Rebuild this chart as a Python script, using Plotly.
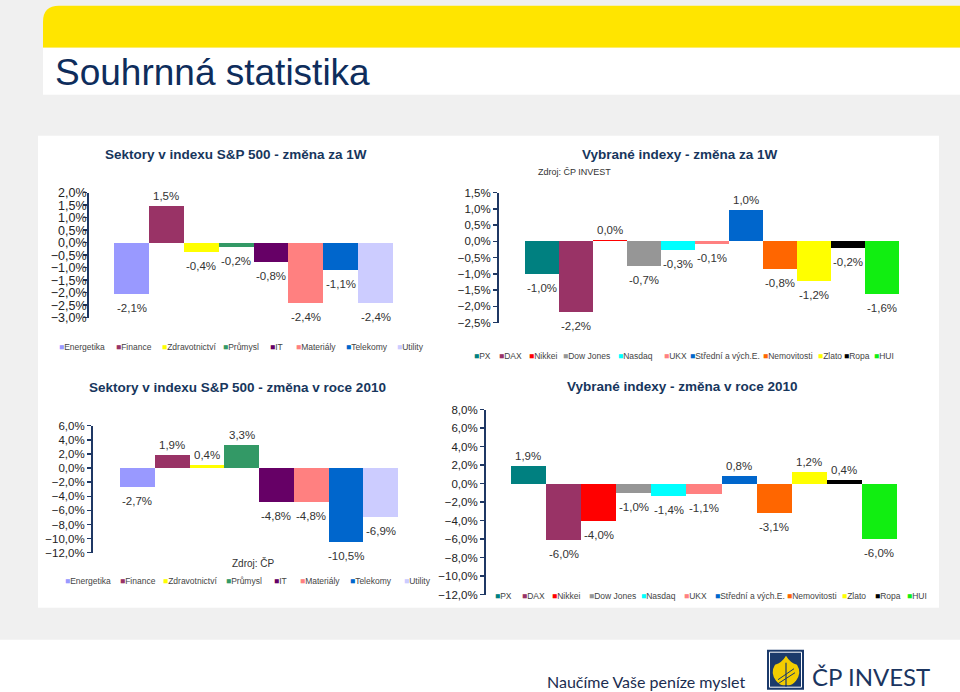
import plotly.graph_objects as go

# ---------------- data ----------------
sectors = ["Energetika", "Finance", "Zdravotnictví", "Průmysl", "IT", "Materiály", "Telekomy", "Utility"]
sector_colors = ["#9999FF", "#993366", "#FFFF00", "#339966", "#660066", "#FF8080", "#0066CC", "#CCCCFF"]
sectors_1w = [-2.06, 1.47, -0.36, -0.16, -0.77, -2.43, -1.09, -2.42]
sectors_2010 = [-2.72, 1.89, 0.44, 3.33, -4.78, -4.79, -10.46, -6.87]

indices = ["PX", "DAX", "Nikkei", "Dow Jones", "Nasdaq", "UKX", "Střední a vých.E.",
           "Nemovitosti", "Zlato", "Ropa", "HUI"]
index_colors = ["#008080", "#993366", "#FF0000", "#969696", "#00FFFF", "#FF8080", "#0066CC",
                "#FF6600", "#FFFF00", "#000000", "#11EE11"]
indices_1w = [-0.99, -2.17, 0.04, -0.74, -0.26, -0.07, 0.98, -0.84, -1.22, -0.19, -1.61]
indices_2010 = [1.91, -6.04, -4.04, -0.97, -1.37, -1.08, 0.83, -3.13, 1.24, 0.36, -6.02]

titles = ["Sektory v indexu S&P 500 - změna za 1W", "Vybrané indexy - změna za 1W",
          "Sektory v indexu S&P 500 - změna v roce 2010", "Vybrané indexy - změna v roce 2010"]

# ---------------- helpers ----------------
W, H = 960, 700
NAVY = "#1F3864"
FONT = "Arial, Liberation Sans, sans-serif"
# the photographed page maps figure y to screen y as  y_screen = 6.3 + 0.98 * y_fig
Y_OFF, Y_SCALE = 6.3, 0.98


def fx(x):
    return x / W


def fy(y):
    return 1 - ((y - Y_OFF) / Y_SCALE) / H


def pct(v):
    return ("%.1f%%" % v).replace(".", ",")


# layout of each chart (target screen-pixel geometry)
charts = [
    dict(names=sectors, vals=sectors_1w, colors=sector_colors, title=titles[0],
         xpx=(89, 393), ypx=(317, 192), yr=(-3, 2), dtick=0.5, xr=(-1.22, 7.5), tfs=12.5, tso=-6,
         tcx=236, tcy=154, legy=346,
         legx=[57, 114, 160, 221, 268, 294, 344, 395]),
    dict(names=indices, vals=indices_1w, colors=index_colors, title=titles[1],
         xpx=(499, 899), ypx=(322, 192), yr=(-2.5, 1.5), dtick=0.5, xr=(-1.26, 10.5), tfs=11.5, tso=0,
         tcx=680, tcy=154, legy=355,
         legx=[472, 497, 527, 561, 616, 662, 688, 761, 816, 842, 872]),
    dict(names=sectors, vals=sectors_2010, colors=sector_colors, title=titles[2],
         xpx=(93, 398), ypx=(552, 425), yr=(-12, 6), dtick=2, xr=(-1.28, 7.5), tfs=11.5, tso=0,
         tcx=237, tcy=387, legy=580,
         legx=[63, 118, 161, 224, 272, 298, 348, 402]),
    dict(names=indices, vals=indices_2010, colors=index_colors, title=titles[3],
         xpx=(486, 897), ypx=(594, 409), yr=(-12, 8), dtick=2, xr=(-1.21, 10.5), tfs=11.5, tso=0,
         tcx=682, tcy=386, legy=595,
         legx=[493, 520, 550, 587, 639, 682, 713, 785, 840, 873, 905]),
]

fig = go.Figure()
layout = dict(
    width=W, height=H, margin=dict(l=0, r=0, t=0, b=0),
    paper_bgcolor="white", plot_bgcolor="rgba(0,0,0,0)",
    showlegend=False, separators=", ", bargap=0, barmode="relative",
    font=dict(family=FONT, color="#222222"),
)
annotations = []

for i, c in enumerate(charts, start=1):
    sfx = "" if i == 1 else str(i)
    xs = list(range(len(c["names"])))
    fig.add_trace(go.Bar(
        x=xs, y=c["vals"],
        marker=dict(color=c["colors"], line=dict(width=0)),
        hoverinfo="skip", xaxis="x" + sfx, yaxis="y" + sfx,
    ))
    # value labels, anchored to the bar ends through the axes
    for xv, v in zip(xs, c["vals"]):
        annotations.append(dict(
            x=xv, y=v, xref="x" + sfx, yref="y" + sfx, text=pct(v), showarrow=False,
            xanchor="center", yanchor="middle", yshift=10 if v >= 0 else -14,
            font=dict(size=11.5, color="#333333", family=FONT)))
    layout["xaxis" + sfx] = dict(
        domain=[fx(c["xpx"][0]), fx(c["xpx"][1])], range=list(c["xr"]),
        visible=False, anchor="y" + sfx, fixedrange=True)
    layout["yaxis" + sfx] = dict(
        domain=[fy(c["ypx"][0]), fy(c["ypx"][1])], range=list(c["yr"]),
        anchor="x" + sfx, showgrid=False, zeroline=False,
        showline=True, linecolor=NAVY, linewidth=2,
        ticks="outside", ticklen=4, tickcolor=NAVY, tickwidth=1.5,
        ticklabelstandoff=c["tso"],
        tick0=0, dtick=c["dtick"], tickformat=".1f", ticksuffix="%",
        tickfont=dict(size=c["tfs"], color="#222222", family=FONT), fixedrange=True)
    annotations.append(dict(
        x=fx(c["tcx"]), y=fy(c["tcy"]), xref="paper", yref="paper",
        text="<b>%s</b>" % c["title"], showarrow=False, xanchor="center", yanchor="middle",
        font=dict(size=13.5, color="#17365D", family=FONT)))
    for name, col, lx in zip(c["names"], c["colors"], c["legx"]):
        annotations.append(dict(
            x=fx(lx), y=fy(c["legy"]), xref="paper", yref="paper",
            text="<span style='color:%s'>■</span>%s" % (col, name),
            showarrow=False, xanchor="left", yanchor="middle",
            font=dict(size=8.5, color="#444444", family=FONT)))

# extra texts
annotations += [
    dict(x=fx(536), y=fy(171), xref="paper", yref="paper", text="Zdroj: ČP INVEST",
         showarrow=False, xanchor="left", yanchor="middle",
         font=dict(size=9, color="#333333", family=FONT)),
    dict(x=fx(253), y=fy(562), xref="paper", yref="paper", text="Zdroj: ČP",
         showarrow=False, xanchor="center", yanchor="middle",
         font=dict(size=10, color="#333333", family=FONT)),
    dict(x=fx(53), y=fy(72), xref="paper", yref="paper", text="Souhrnná statistika",
         showarrow=False, xanchor="left", yanchor="middle",
         font=dict(size=37, color="#0E2D5C", family=FONT)),
    dict(x=fx(545), y=fy(681), xref="paper", yref="paper", text="Naučíme Vaše peníze myslet",
         showarrow=False, xanchor="left", yanchor="middle",
         font=dict(size=16, color="#1B2D4F", family="Lato, Open Sans, sans-serif")),
    dict(x=fx(810), y=fy(676), xref="paper", yref="paper", text="ČP INVEST",
         showarrow=False, xanchor="left", yanchor="middle",
         font=dict(size=24, color="#1B3560", family="Lato, Open Sans, sans-serif")),
]
layout["annotations"] = annotations


def rect(x0, y0, x1, y1, color, line=None):
    return dict(type="rect", xref="paper", yref="paper", x0=fx(x0), x1=fx(x1), y0=fy(y1), y1=fy(y0),
                fillcolor=color, line=line or dict(width=0), layer="below")


def path(cmds, color, line=None):
    parts = []
    for p in cmds:
        if isinstance(p, str):
            parts.append(p)
        else:
            parts.append("%f,%f" % (fx(p[0]), fy(p[1])))
    return dict(type="path", xref="paper", yref="paper", path=" ".join(parts),
                fillcolor=color, line=line or dict(width=0), layer="below")


def seg(x0, y0, x1, y1, color, w=1):
    return dict(type="line", xref="paper", yref="paper", x0=fx(x0), y0=fy(y0), x1=fx(x1), y1=fy(y1),
                line=dict(color=color, width=w), layer="below")


shapes = [
    rect(0, -10, 960, 639, "#F0F0F0"),
    path(["M", (43, 47), "L", (43, 21), "Q", (43, 5), (59, 5), "L", (960, 5), "L", (960, 47), "Z"],
         "#FFE500"),
    rect(43, 47, 960, 94, "#FFFFFF"),
    rect(38, 135, 939, 607, "#FFFFFF"),
    # logo
    rect(767, 649, 804, 689, "#1B3A6B"),
    rect(769.5, 651.5, 801.5, 686.5, "#1B3A6B", line=dict(color="#FFFFFF", width=1)),
    path(["M", (786, 655), "Q", (790, 662), (797, 664), "Q", (802, 672), (796, 680),
          "Q", (791, 686), (786, 684), "Q", (781, 686), (776, 680), "Q", (770, 672), (775, 664),
          "Q", (782, 662), (786, 655), "Z"], "#F2CC00"),
    seg(786, 662, 786, 686, "#1B3A6B", 1.2),
    seg(778, 683, 795, 672, "#1B3A6B", 1),
    seg(778, 679, 794, 668, "#1B3A6B", 1),
]
layout["shapes"] = shapes
fig.update_layout(**layout)
fig.write_html(
    "out.html",
    config={"displayModeBar": False, "staticPlot": True},
    post_script=(
        "document.documentElement.style.margin='0';document.body.style.margin='0';"
        "document.body.style.overflow='hidden';document.body.style.background='#F0F0F0';"
        "var d=document.querySelector('.plotly-graph-div');"
        "d.style.position='fixed';d.style.top='0px';d.style.left='0px';"
    ),
)
